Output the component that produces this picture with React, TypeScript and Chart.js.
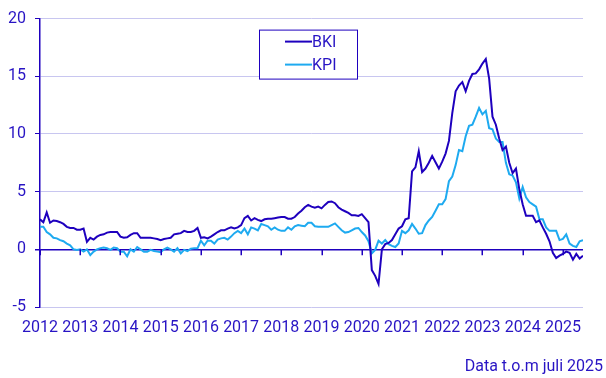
import React, { useEffect, useRef } from "react";
import { Chart, registerables } from "chart.js";

Chart.register(...registerables);

const START_YEAR = 2012;
const yearTicks = ["2012","2013","2014","2015","2016","2017","2018","2019","2020","2021","2022","2023","2024","2025"];
const yTicks = [-5, 0, 5, 10, 15, 20];

// Monthly values, Jan 2012 - Jul 2025
const bki = [
  2.6, 2.35, 3.2, 2.3, 2.5, 2.45, 2.35, 2.2, 1.95, 1.85, 1.85, 1.7,
  1.7, 1.8, 0.65, 1.0, 0.85, 1.1, 1.25, 1.3, 1.45, 1.5, 1.5, 1.5,
  1.1, 1.0, 1.05, 1.25, 1.4, 1.4, 1.0, 1.0, 1.0, 1.0, 0.95, 0.9,
  0.8, 0.9, 0.95, 1.0, 1.3, 1.35, 1.4, 1.6, 1.5, 1.5, 1.6, 1.85,
  1.0, 1.05, 0.95, 1.1, 1.3, 1.5, 1.65, 1.65, 1.8, 1.9, 1.8, 1.9,
  2.1, 2.7, 2.9, 2.5, 2.7, 2.55, 2.45, 2.6, 2.65, 2.65, 2.7, 2.75,
  2.8, 2.8, 2.65, 2.65, 2.8, 3.1, 3.35, 3.65, 3.85, 3.7, 3.6, 3.7,
  3.55, 3.85, 4.1, 4.15, 4.0, 3.65, 3.45, 3.3, 3.15, 2.95, 2.95, 2.9,
  3.05, 2.7, 2.35, -1.8, -2.3, -3.0, 0.0, 0.45, 0.55, 0.8, 1.3, 1.8,
  2.0, 2.6, 2.7, 6.75, 7.1, 8.5, 6.7, 7.0, 7.5, 8.1, 7.55, 7.0,
  7.6, 8.3, 9.4, 11.8, 13.7, 14.2, 14.5, 13.7, 14.6, 15.2, 15.25, 15.6,
  16.1, 16.5, 14.8, 11.5, 10.8, 9.6, 8.6, 8.9, 7.5, 6.6, 7.0, 5.2,
  3.9, 2.9, 2.9, 2.9, 2.35, 2.5, 1.9, 1.35, 0.7, -0.3, -0.75, -0.55,
  -0.4, -0.2, -0.3, -0.9, -0.4, -0.8, -0.55,
];

const kpi = [
  1.95, 1.95, 1.5, 1.3, 1.0, 0.95, 0.8, 0.7, 0.5, 0.35, 0.0, -0.05,
  0.0, -0.2, 0.0, -0.5, -0.2, 0.0, 0.1, 0.15, 0.1, -0.05, 0.15, 0.1,
  -0.2, -0.2, -0.6, 0.0, -0.2, 0.2, 0.0, -0.2, -0.2, -0.05, -0.15, -0.2,
  -0.25, 0.0, 0.15, 0.0, -0.2, 0.1, -0.35, -0.05, -0.15, 0.05, 0.1, 0.1,
  0.75, 0.35, 0.75, 0.75, 0.5, 0.85, 0.95, 1.0, 0.85, 1.1, 1.4, 1.6,
  1.4, 1.8, 1.3, 1.9, 1.8, 1.65, 2.2, 2.1, 2.0, 1.7, 1.9, 1.7,
  1.6, 1.6, 1.9, 1.7, 2.0, 2.1, 2.05, 2.0, 2.3, 2.3, 2.0, 1.95,
  1.95, 1.95, 1.95, 2.1, 2.25, 1.95, 1.65, 1.45, 1.5, 1.65, 1.8, 1.85,
  1.5, 1.2, 0.7, -0.35, -0.05, 0.75, 0.5, 0.8, 0.45, 0.3, 0.2, 0.5,
  1.6, 1.4, 1.65, 2.2, 1.8, 1.35, 1.4, 2.1, 2.5, 2.8, 3.35, 3.9,
  3.9, 4.35, 5.9, 6.3, 7.3, 8.6, 8.5, 9.8, 10.7, 10.8, 11.5, 12.25,
  11.7, 12.0, 10.5, 10.4, 9.6, 9.3, 9.3, 7.5, 6.5, 6.4, 5.8, 4.4,
  5.4, 4.5, 4.1, 3.9, 3.7, 2.6, 2.6, 1.9, 1.6, 1.6, 1.6, 0.8,
  0.9, 1.3, 0.5, 0.3, 0.2, 0.7, 0.8,
];

const seriesLabels = ["BKI", "KPI"];
const footnote = "Data t.o.m juli 2025";

const DARK = "#1e00be";
const LIGHT = "#1eaaf0";
const TEXT = "#2814c4";
const GRID = "#c8c6f0";
const FONT = "Roboto";

const toPoints = (arr: number[]) => arr.map((v, i) => ({ x: START_YEAR + i / 12, y: v }));

// Year tick marks hanging below the zero line, placed via the library's scales
const zeroTicks = {
  id: "zeroTicks",
  afterDraw(chart: any) {
    const { ctx } = chart;
    const xs = chart.scales.x;
    const ys = chart.scales.y;
    const y0 = ys.getPixelForValue(0);
    ctx.save();
    ctx.strokeStyle = DARK;
    ctx.lineWidth = 1.5;
    ctx.beginPath();
    xs.ticks.forEach((t: any) => {
      const px = Math.round(xs.getPixelForValue(t.value)) + 0.25;
      ctx.moveTo(px, y0);
      ctx.lineTo(px, y0 + 6);
    });
    ctx.stroke();
    ctx.restore();
  },
};

const legendBox = {
  id: "legendBox",
  afterDraw(chart: any) {
    const { ctx, chartArea } = chart;
    const left = chartArea.left + 219;
    const top = chartArea.top + 11;
    const w = 98;
    const h = 49;
    ctx.save();
    ctx.fillStyle = "#ffffff";
    ctx.fillRect(left, top, w, h);
    ctx.strokeStyle = DARK;
    ctx.lineWidth = 1;
    ctx.strokeRect(left + 0.5, top + 0.5, w, h);
    chart.data.datasets.forEach((ds: any, i: number) => {
      const y = top + 12 + i * 23;
      ctx.strokeStyle = ds.borderColor;
      ctx.lineWidth = 2;
      ctx.beginPath();
      ctx.moveTo(left + 26, y);
      ctx.lineTo(left + 53, y);
      ctx.stroke();
      ctx.fillStyle = TEXT;
      ctx.font = `16px ${FONT}`;
      ctx.textBaseline = "middle";
      ctx.textAlign = "left";
      ctx.fillText(ds.label, left + 53, y + 1);
    });
    ctx.restore();
  },
};

const footnotePlugin = {
  id: "footnote",
  afterDraw(chart: any) {
    const { ctx } = chart;
    ctx.save();
    ctx.fillStyle = TEXT;
    ctx.font = `16px ${FONT}`;
    ctx.textAlign = "right";
    ctx.textBaseline = "middle";
    ctx.fillText(footnote, chart.width - 3, chart.height - 11);
    ctx.restore();
  },
};

export default function App() {
  const ref = useRef<HTMLCanvasElement>(null);
  useEffect(() => {
    document.body.style.margin = "0";
    if (!ref.current) return;
    const maxX = START_YEAR + (bki.length - 1) / 12;
    const chart = new Chart(ref.current, {
      type: "line",
      data: {
        datasets: [
          { label: seriesLabels[0], data: toPoints(bki), borderColor: DARK, borderWidth: 2, pointRadius: 0, tension: 0 },
          { label: seriesLabels[1], data: toPoints(kpi), borderColor: LIGHT, borderWidth: 2, pointRadius: 0, tension: 0 },
        ],
      },
      options: {
        animation: false,
        responsive: true,
        maintainAspectRatio: false,
        layout: { padding: { top: 16, right: 23, left: 0, bottom: 0 } },
        plugins: { legend: { display: false }, tooltip: { enabled: false }, title: { display: false } },
        scales: {
          x: {
            type: "linear",
            position: "bottom",
            min: START_YEAR,
            max: maxX,
            grid: { display: false, drawTicks: false },
            border: { display: false },
            afterFit: (s: any) => { s.height = 71; },
            ticks: {
              stepSize: 1,
              includeBounds: false,
              color: TEXT,
              font: { family: FONT, size: 16 },
              padding: 11,
              maxRotation: 0,
              autoSkip: false,
              callback: (v: any) => {
                const idx = Math.round(Number(v)) - START_YEAR;
                return yearTicks[idx] ?? "";
              },
            },
          },
          y: {
            min: -5,
            max: 20,
            afterFit: (s: any) => { s.width = 40; },
            afterBuildTicks: (s: any) => { s.ticks = yTicks.map((v) => ({ value: v })); },
            grid: {
              color: (c: any) => (c.tick && c.tick.value === 0 ? DARK : GRID),
              lineWidth: (c: any) => (c.tick && c.tick.value === 0 ? 1.5 : 1),
              tickColor: DARK,
              tickLength: 5,
            },
            border: { display: true, color: DARK, width: 1.5 },
            ticks: {
              color: TEXT,
              font: { family: FONT, size: 16 },
              padding: 9,
              callback: (v: any) => String(v),
            },
          },
        },
      },
      plugins: [zeroTicks, legendBox, footnotePlugin],
    });
    return () => chart.destroy();
  }, []);
  return (
    <div style={{ width: 606, height: 378, position: "relative" }}>
      <canvas ref={ref} />
    </div>
  );
}
